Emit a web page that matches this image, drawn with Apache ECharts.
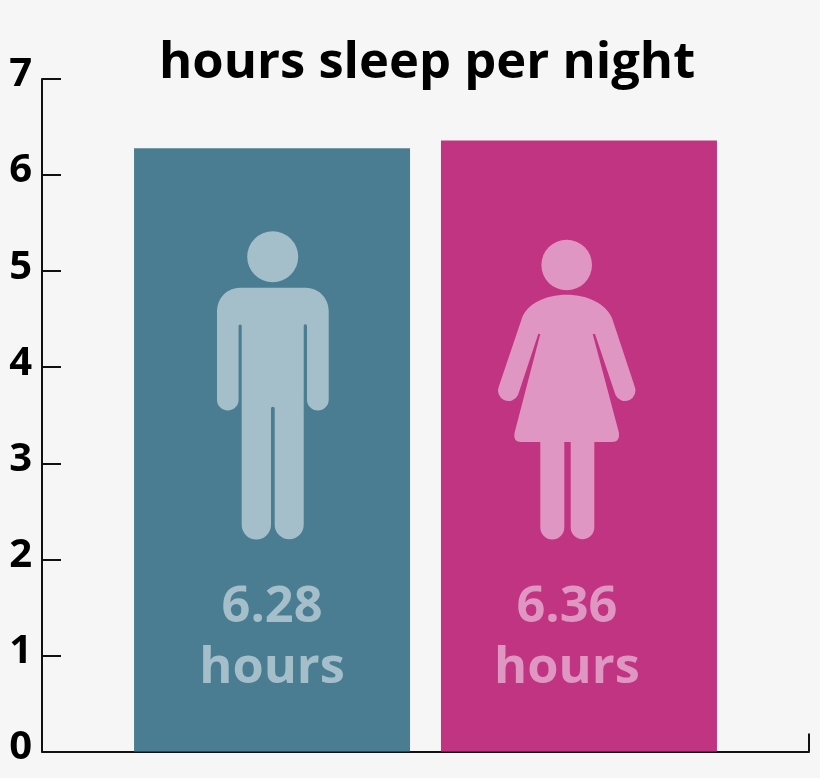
<!DOCTYPE html>
<html>
<head>
<meta charset="utf-8">
<style>html,body{margin:0;padding:0;background:#f6f6f6}#c{width:820px;height:778px}</style>
<script src="https://cdn.jsdelivr.net/npm/echarts@6/dist/echarts.min.js"></script>
</head>
<body>
<div id="c"></div>
<script>
const titleText = 'hours sleep per night';
const categories = ['Hours'];
const menHours = [6.28];
const womenHours = [6.36];
const yTicks = [0, 1, 2, 3, 4, 5, 6, 7];

const FONT = '"Open Sans"';
const manPath = 'M240 287.7L305.7 287.7A23 23 0 0 1 328.7 310.7L328.7 399.7A10.85 10.85 0 0 1 307 399.7L307 326A1.65 1.65 0 0 0 303.7 326L303.7 524.8A14.5 14.5 0 0 1 274.7 524.8L274.7 408.5A1.85 1.85 0 0 0 271 408.5L271 524.8A14.65 14.65 0 0 1 241.7 524.8L241.7 326A1.55 1.55 0 0 0 238.6 326L238.6 399.7A10.8 10.8 0 0 1 217 399.7L217 310.7A23 23 0 0 1 240 287.7Z';
const womanPath = 'M566.7 294.7C588 294.7 606 304 612 318L634.5 386A10 10 0 0 1 615.5 395L595 334L592.7 334L619 433Q620 442 612 442L594.3 442L594.3 527.5A11.8 11.8 0 0 1 570.7 527.5L570.7 442L564.3 442L564.3 527.5A12 12 0 0 1 540.3 527.5L540.3 442L521 442Q513 442 514.5 433L540.3 334L538.3 334L518 395A10 10 0 0 1 499 386L522 318C527 304 545 294.7 566.7 294.7Z';

echarts.graphic.registerShape('manIcon', echarts.graphic.extendPath(manPath));
echarts.graphic.registerShape('womanIcon', echarts.graphic.extendPath(womanPath));

function barSeries(name, data, color, textColor, labelShift) {
  return {
    name, type: 'bar', data,
    barWidth: 276, barGap: '11.2%',
    itemStyle: { color },
    label: {
      show: true, position: 'insideBottom', distance: 52, offset: [labelShift, 0],
      formatter: p => p.value.toFixed(2) + '\nhours',
      color: textColor, fontFamily: FONT, fontWeight: 'bold', fontSize: 50.5, lineHeight: 61
    }
  };
}

const chart = echarts.init(document.getElementById('c'), null, { renderer: 'canvas' });
chart.setOption({
  animation: false,
  backgroundColor: '#f6f6f6',
  title: {
    text: titleText, left: 154, top: 33,
    textStyle: { fontFamily: FONT, fontWeight: 'bold', fontSize: 50.7, color: '#000' }
  },
  grid: { left: 42, right: 11, top: 79, bottom: 26.5, containLabel: false },
  xAxis: {
    type: 'category', data: categories,
    axisLine: { lineStyle: { color: '#111', width: 2 } },
    axisTick: { show: true, inside: true, length: 18, lineStyle: { color: '#111', width: 2 } },
    axisLabel: { show: false }
  },
  yAxis: {
    type: 'value', min: yTicks[0], max: yTicks[yTicks.length - 1], interval: 1,
    splitLine: { show: false },
    axisLine: { show: true, lineStyle: { color: '#111', width: 2 } },
    axisTick: { show: true, inside: true, length: 19, lineStyle: { color: '#111', width: 2 } },
    axisLabel: {
      margin: 10, color: '#000', fontFamily: FONT, fontWeight: 'bold', fontSize: 40,
      verticalAlign: 'bottom', lineHeight: 8, showMinLabel: true, showMaxLabel: true
    }
  },
  series: [
    barSeries('Men', menHours, '#4a7d91', '#a5bfca', 0),
    barSeries('Women', womenHours, '#c03481', '#e096c3', -12)
  ],
  graphic: [
    { type: 'circle', z: 10, shape: { cx: 272.7, cy: 256.7, r: 25.5 }, style: { fill: '#a5bfca' } },
    { type: 'manIcon', z: 10, style: { fill: '#a5bfca' } },
    { type: 'circle', z: 10, shape: { cx: 566.7, cy: 265, r: 25.3 }, style: { fill: '#e096c3' } },
    { type: 'womanIcon', z: 10, style: { fill: '#e096c3' } }
  ]
});
</script>
</body>
</html>
